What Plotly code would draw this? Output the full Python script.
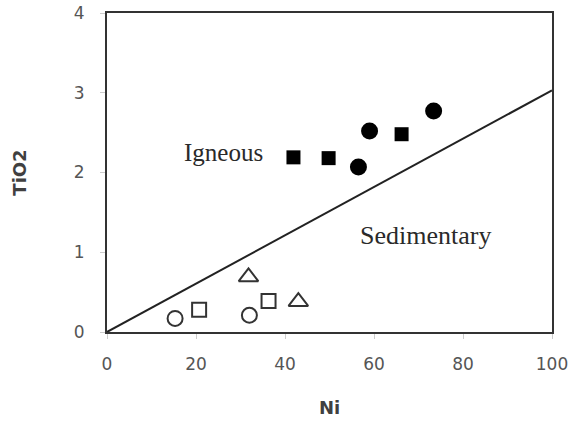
import plotly.graph_objects as go

# Data
filled_sq_x = [41.9, 49.8, 66.2]
filled_sq_y = [2.19, 2.18, 2.48]
filled_ci_x = [56.5, 59.0, 73.4]
filled_ci_y = [2.07, 2.52, 2.77]
open_ci_x = [15.3, 32.0]
open_ci_y = [0.17, 0.21]
open_sq_x = [20.7, 36.3]
open_sq_y = [0.28, 0.39]
open_tr_x = [31.8, 43.0]
open_tr_y = [0.69, 0.38]
boundary_x = [0, 100]
boundary_y = [0, 3.03]

x_ticks = [0, 20, 40, 60, 80, 100]
y_ticks = [0, 1, 2, 3, 4]

fig = go.Figure()

fig.add_trace(go.Scatter(x=boundary_x, y=boundary_y, mode="lines",
                         line=dict(color="#222222", width=2), hoverinfo="skip"))
fig.add_trace(go.Scatter(x=filled_sq_x, y=filled_sq_y, mode="markers",
                         marker=dict(symbol="square", size=14, color="black")))
fig.add_trace(go.Scatter(x=filled_ci_x, y=filled_ci_y, mode="markers",
                         marker=dict(symbol="circle", size=17, color="black")))
fig.add_trace(go.Scatter(x=open_ci_x, y=open_ci_y, mode="markers",
                         marker=dict(symbol="circle-open", size=15, color="#333333",
                                     line=dict(width=2))))
fig.add_trace(go.Scatter(x=open_sq_x, y=open_sq_y, mode="markers",
                         marker=dict(symbol="square-open", size=14, color="#333333",
                                     line=dict(width=2))))
fig.add_trace(go.Scatter(x=open_tr_x, y=open_tr_y, mode="markers",
                         marker=dict(symbol="triangle-up-open", size=17, color="#333333",
                                     line=dict(width=2))))

fig.add_annotation(x=26.1, y=2.25, text="Igneous", showarrow=False,
                   font=dict(family="Liberation Serif", size=25, color="#2a2a2a"))
fig.add_annotation(x=71.5, y=1.21, text="Sedimentary", showarrow=False,
                   font=dict(family="Liberation Serif", size=26, color="#2a2a2a"))

axis_common = dict(showline=True, linecolor="#333333", linewidth=2, mirror=True,
                   showgrid=False, zeroline=False, ticks="outside", ticklen=5,
                   tickcolor="#cccccc", tickwidth=1, automargin=False,
                   ticklabeloverflow="allow",
                   tickfont=dict(family="DejaVu Sans", size=17, color="#555555"))

fig.update_xaxes(range=[0, 100], tickvals=x_ticks, ticklabelstandoff=11,
                 title=dict(text="<b>Ni</b>", font=dict(family="DejaVu Sans", size=18, color="#404040"),
                            standoff=28),
                 **axis_common)
fig.update_yaxes(range=[0, 4], tickvals=y_ticks, ticklabelstandoff=12,
                 title=dict(text="<b>TiO2</b>", font=dict(family="DejaVu Sans", size=18, color="#404040"),
                            standoff=42),
                 **axis_common)

fig.update_layout(width=568, height=423, showlegend=False,
                  margin=dict(l=107, r=16, t=13, b=91),
                  plot_bgcolor="white", paper_bgcolor="white")

fig.write_html("out.html")
